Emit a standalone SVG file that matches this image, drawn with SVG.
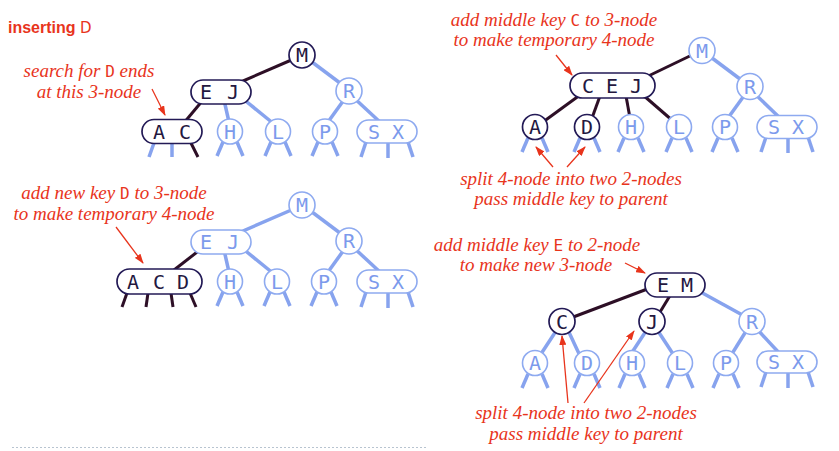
<svg xmlns="http://www.w3.org/2000/svg" width="839" height="451" viewBox="0 0 839 451">
<style>
.bg{fill:#ffffff}
.hdr{font-family:"Liberation Sans",Arial,sans-serif;font-weight:bold;font-size:16px;fill:#e8341c}
.hk{font-family:"DejaVu Sans",sans-serif;font-weight:normal;font-size:15px}
.ann{font-family:"Liberation Serif","Times New Roman",serif;font-style:italic;font-size:19px;fill:#e8341c;text-anchor:middle}
.k{font-family:"DejaVu Sans Mono",monospace;font-style:normal;font-size:16px}
.lbl{font-family:"DejaVu Sans Mono",monospace;font-size:20px;text-anchor:middle}
.dk circle,.dk rect{fill:#fff;stroke:#231a56;stroke-width:1.7}
.lt circle,.lt rect{fill:#fff;stroke:#8eaaf0;stroke-width:1.6}
.dk text{fill:#24183f}
.lt text{fill:#7c9aec}
.ed{stroke:#2d0f26;stroke-width:3;fill:none}
.el{stroke:#87a3ee;stroke-width:3.5;fill:none}
.arr{stroke:#e8341c;stroke-width:1.3;fill:none;marker-end:url(#ah)}
.dash{stroke:#b8c4d0;stroke-width:1.2;stroke-dasharray:2 2}
</style>
<defs>
<marker id="ah" markerUnits="userSpaceOnUse" markerWidth="10" markerHeight="7" refX="9" refY="3.5" orient="auto">
<path d="M0,0 L10,3.5 L0,7 z" fill="#e8341c"/>
</marker>
</defs>
<rect class="bg" x="0" y="0" width="839" height="451"/>

<text class="hdr" x="8" y="33">inserting <tspan class="hk">D</tspan></text>

<g id="connectors">
<!-- panel 1 -->
<line class="ed" x1="296" y1="58" x2="236" y2="84"/>
<line class="el" x1="308" y1="59" x2="344" y2="86"/>
<line class="ed" x1="203" y1="100" x2="183" y2="124"/>
<line class="el" x1="224" y1="100" x2="229" y2="122"/>
<line class="el" x1="242" y1="98" x2="274" y2="124"/>
<line class="el" x1="346" y1="97" x2="328" y2="122"/>
<line class="el" x1="353" y1="97" x2="381" y2="123"/>
<line class="el" x1="154" y1="143" x2="149" y2="157"/>
<line class="el" x1="172" y1="143" x2="172" y2="157"/>
<line class="ed" x1="191" y1="143" x2="198" y2="157"/>
<line class="el" x1="223" y1="142" x2="217" y2="156"/>
<line class="el" x1="237" y1="142" x2="243" y2="156"/>
<line class="el" x1="271" y1="142" x2="265" y2="156"/>
<line class="el" x1="285" y1="142" x2="291" y2="156"/>
<line class="el" x1="318" y1="142" x2="312" y2="156"/>
<line class="el" x1="332" y1="142" x2="338" y2="156"/>
<line class="el" x1="366" y1="142" x2="361" y2="157"/>
<line class="el" x1="388" y1="142" x2="388" y2="158"/>
<line class="el" x1="408" y1="142" x2="413" y2="157"/>
<!-- panel 2 -->
<line class="el" x1="296" y1="208" x2="236" y2="234"/>
<line class="el" x1="308" y1="209" x2="344" y2="236"/>
<line class="ed" x1="201" y1="249" x2="174" y2="270"/>
<line class="el" x1="224" y1="250" x2="229" y2="272"/>
<line class="el" x1="242" y1="248" x2="274" y2="274"/>
<line class="el" x1="346" y1="247" x2="328" y2="272"/>
<line class="el" x1="353" y1="247" x2="381" y2="273"/>
<line class="ed" x1="127" y1="293" x2="122" y2="307"/>
<line class="ed" x1="148" y1="293" x2="146" y2="307"/>
<line class="ed" x1="171" y1="293" x2="173" y2="307"/>
<line class="ed" x1="190" y1="293" x2="196" y2="307"/>
<line class="el" x1="223" y1="292" x2="217" y2="306"/>
<line class="el" x1="237" y1="292" x2="243" y2="306"/>
<line class="el" x1="270" y1="292" x2="264" y2="306"/>
<line class="el" x1="284" y1="292" x2="290" y2="306"/>
<line class="el" x1="317" y1="292" x2="311" y2="306"/>
<line class="el" x1="331" y1="292" x2="337" y2="306"/>
<line class="el" x1="366" y1="292" x2="361" y2="307"/>
<line class="el" x1="388" y1="292" x2="388" y2="308"/>
<line class="el" x1="408" y1="292" x2="413" y2="307"/>
<!-- panel 3 -->
<line class="ed" x1="694" y1="54" x2="640" y2="80"/>
<line class="el" x1="708" y1="55" x2="744" y2="82"/>
<line class="el" x1="746" y1="93" x2="728" y2="118"/>
<line class="el" x1="754" y1="93" x2="781" y2="119"/>
<line class="ed" x1="580" y1="95" x2="543" y2="122"/>
<line class="ed" x1="600" y1="96" x2="592" y2="118"/>
<line class="ed" x1="626" y1="96" x2="630" y2="118"/>
<line class="ed" x1="643" y1="95" x2="673" y2="121"/>
<line class="el" x1="528" y1="138" x2="522" y2="152"/>
<line class="el" x1="542" y1="138" x2="548" y2="152"/>
<line class="el" x1="580" y1="138" x2="574" y2="152"/>
<line class="el" x1="594" y1="138" x2="600" y2="152"/>
<line class="el" x1="624" y1="138" x2="618" y2="152"/>
<line class="el" x1="638" y1="138" x2="644" y2="152"/>
<line class="el" x1="672" y1="138" x2="666" y2="152"/>
<line class="el" x1="686" y1="138" x2="692" y2="152"/>
<line class="el" x1="718" y1="138" x2="712" y2="152"/>
<line class="el" x1="732" y1="138" x2="738" y2="152"/>
<line class="el" x1="766" y1="137" x2="761" y2="152"/>
<line class="el" x1="788" y1="137" x2="788" y2="153"/>
<line class="el" x1="808" y1="137" x2="813" y2="152"/>
<!-- panel 4 -->
<line class="ed" x1="650" y1="288" x2="568" y2="319"/>
<line class="ed" x1="671" y1="294" x2="657" y2="317"/>
<line class="el" x1="697" y1="290" x2="746" y2="317"/>
<line class="el" x1="558" y1="328" x2="539" y2="357"/>
<line class="el" x1="567" y1="328" x2="581" y2="358"/>
<line class="el" x1="648" y1="328" x2="629" y2="357"/>
<line class="el" x1="656" y1="328" x2="675" y2="357"/>
<line class="el" x1="748" y1="328" x2="730" y2="357"/>
<line class="el" x1="756" y1="328" x2="781" y2="355"/>
<line class="el" x1="528" y1="374" x2="522" y2="388"/>
<line class="el" x1="542" y1="374" x2="548" y2="388"/>
<line class="el" x1="580" y1="374" x2="574" y2="388"/>
<line class="el" x1="594" y1="374" x2="600" y2="388"/>
<line class="el" x1="625" y1="374" x2="619" y2="388"/>
<line class="el" x1="639" y1="374" x2="645" y2="388"/>
<line class="el" x1="673" y1="374" x2="667" y2="388"/>
<line class="el" x1="687" y1="374" x2="693" y2="388"/>
<line class="el" x1="719" y1="374" x2="713" y2="388"/>
<line class="el" x1="733" y1="374" x2="739" y2="388"/>
<line class="el" x1="766" y1="372" x2="761" y2="387"/>
<line class="el" x1="788" y1="372" x2="788" y2="388"/>
<line class="el" x1="808" y1="372" x2="813" y2="387"/>
</g>

<!-- panel 1 nodes -->
<g id="p1-M" class="dk"><circle cx="302" cy="55" r="13"/><text class="lbl" x="302" y="62.3">M</text></g>
<g id="p1-EJ" class="dk"><rect x="191" y="80" width="60" height="24" rx="12"/><text class="lbl" x="206" y="99.3">E</text><text class="lbl" x="233" y="99.3">J</text></g>
<g id="p1-R" class="lt"><circle cx="349" cy="91" r="13"/><text class="lbl" x="349" y="98.3">R</text></g>
<g id="p1-AC" class="dk"><rect x="142" y="119.5" width="60" height="24" rx="12"/><text class="lbl" x="159" y="138.8">A</text><text class="lbl" x="185" y="138.8">C</text></g>
<g id="p1-H" class="lt"><circle cx="230" cy="131.5" r="12.5"/><text class="lbl" x="230" y="138.8">H</text></g>
<g id="p1-L" class="lt"><circle cx="278" cy="131.5" r="12.5"/><text class="lbl" x="278" y="138.8">L</text></g>
<g id="p1-P" class="lt"><circle cx="325" cy="131.5" r="12.5"/><text class="lbl" x="325" y="138.8">P</text></g>
<g id="p1-SX" class="lt"><rect x="357" y="120" width="60" height="23" rx="11.5"/><text class="lbl" x="374" y="138.8">S</text><text class="lbl" x="398" y="138.8">X</text></g>

<!-- panel 2 nodes -->
<g id="p2-M" class="lt"><circle cx="302" cy="205" r="13"/><text class="lbl" x="302" y="212.3">M</text></g>
<g id="p2-EJ" class="lt"><rect x="191" y="230" width="60" height="24" rx="12"/><text class="lbl" x="206" y="249.3">E</text><text class="lbl" x="233" y="249.3">J</text></g>
<g id="p2-R" class="lt"><circle cx="349" cy="241" r="13"/><text class="lbl" x="349" y="248.3">R</text></g>
<g id="p2-ACD" class="dk"><rect x="117" y="269" width="85" height="25" rx="12.5"/><text class="lbl" x="133" y="288.8">A</text><text class="lbl" x="159" y="288.8">C</text><text class="lbl" x="183" y="288.8">D</text></g>
<g id="p2-H" class="lt"><circle cx="230" cy="281.5" r="12.5"/><text class="lbl" x="230" y="288.8">H</text></g>
<g id="p2-L" class="lt"><circle cx="277" cy="281.5" r="12.5"/><text class="lbl" x="277" y="288.8">L</text></g>
<g id="p2-P" class="lt"><circle cx="324" cy="281.5" r="12.5"/><text class="lbl" x="324" y="288.8">P</text></g>
<g id="p2-SX" class="lt"><rect x="357" y="270" width="60" height="23" rx="11.5"/><text class="lbl" x="374" y="288.8">S</text><text class="lbl" x="398" y="288.8">X</text></g>

<!-- panel 3 nodes -->
<g id="p3-M" class="lt"><circle cx="702" cy="50.5" r="13"/><text class="lbl" x="702" y="57.8">M</text></g>
<g id="p3-CEJ" class="dk"><rect x="570" y="73" width="85" height="25" rx="12.5"/><text class="lbl" x="588" y="92.8">C</text><text class="lbl" x="612" y="92.8">E</text><text class="lbl" x="636" y="92.8">J</text></g>
<g id="p3-R" class="lt"><circle cx="750" cy="86.5" r="13"/><text class="lbl" x="750" y="93.8">R</text></g>
<g id="p3-A" class="dk"><circle cx="535" cy="127" r="12.5"/><text class="lbl" x="535" y="134.3">A</text></g>
<g id="p3-D" class="dk"><circle cx="587" cy="127" r="12.5"/><text class="lbl" x="587" y="134.3">D</text></g>
<g id="p3-H" class="lt"><circle cx="631" cy="127" r="12.5"/><text class="lbl" x="631" y="134.3">H</text></g>
<g id="p3-L" class="lt"><circle cx="679" cy="127" r="12.5"/><text class="lbl" x="679" y="134.3">L</text></g>
<g id="p3-P" class="lt"><circle cx="725" cy="127" r="12.5"/><text class="lbl" x="725" y="134.3">P</text></g>
<g id="p3-SX" class="lt"><rect x="757" y="115.5" width="60" height="23" rx="11.5"/><text class="lbl" x="774" y="134.3">S</text><text class="lbl" x="798" y="134.3">X</text></g>

<!-- panel 4 nodes -->
<g id="p4-EM" class="dk"><rect x="645" y="273" width="60" height="24" rx="12"/><text class="lbl" x="663" y="292.3">E</text><text class="lbl" x="687" y="292.3">M</text></g>
<g id="p4-C" class="dk"><circle cx="562" cy="321.5" r="13"/><text class="lbl" x="562" y="328.8">C</text></g>
<g id="p4-J" class="dk"><circle cx="652" cy="321.5" r="13"/><text class="lbl" x="652" y="328.8">J</text></g>
<g id="p4-R" class="lt"><circle cx="752" cy="321.5" r="13"/><text class="lbl" x="752" y="328.8">R</text></g>
<g id="p4-A" class="lt"><circle cx="535" cy="363" r="12.5"/><text class="lbl" x="535" y="370.3">A</text></g>
<g id="p4-D" class="lt"><circle cx="587" cy="363" r="12.5"/><text class="lbl" x="587" y="370.3">D</text></g>
<g id="p4-H" class="lt"><circle cx="632" cy="363" r="12.5"/><text class="lbl" x="632" y="370.3">H</text></g>
<g id="p4-L" class="lt"><circle cx="680" cy="363" r="12.5"/><text class="lbl" x="680" y="370.3">L</text></g>
<g id="p4-P" class="lt"><circle cx="726" cy="363" r="12.5"/><text class="lbl" x="726" y="370.3">P</text></g>
<g id="p4-SX" class="lt"><rect x="757" y="351" width="60" height="22" rx="11"/><text class="lbl" x="774" y="369.3">S</text><text class="lbl" x="798" y="369.3">X</text></g>

<g id="callouts">
<text class="ann" x="89" y="77">search for <tspan class="k">D</tspan> ends</text>
<text class="ann" x="89" y="98">at this 3-node</text>
<line class="arr" x1="152" y1="89" x2="165" y2="115"/>

<text class="ann" x="114" y="199">add new key <tspan class="k">D</tspan> to 3-node</text>
<text class="ann" x="114" y="220">to make temporary 4-node</text>
<line class="arr" x1="116" y1="227" x2="143" y2="263"/>

<text class="ann" x="554" y="26">add middle key <tspan class="k">C</tspan> to 3-node</text>
<text class="ann" x="554" y="46">to make temporary 4-node</text>
<line class="arr" x1="556" y1="55" x2="572" y2="75"/>
<text class="ann" x="571" y="185">split 4-node into two 2-nodes</text>
<text class="ann" x="571" y="205">pass middle key to parent</text>
<line class="arr" x1="553" y1="167" x2="536" y2="147"/>
<line class="arr" x1="567" y1="167" x2="585" y2="147"/>

<text class="ann" x="537" y="251">add middle key <tspan class="k">E</tspan> to 2-node</text>
<text class="ann" x="536" y="271">to make new 3-node</text>
<line class="arr" x1="625" y1="263" x2="645" y2="273"/>
<text class="ann" x="586" y="419">split 4-node into two 2-nodes</text>
<text class="ann" x="586" y="440">pass middle key to parent</text>
<line class="arr" x1="568" y1="403" x2="562" y2="336"/>
<line class="arr" x1="584" y1="403" x2="634" y2="331"/>
</g>

<line class="dash" x1="12" y1="447.5" x2="428" y2="447.5"/>
</svg>
